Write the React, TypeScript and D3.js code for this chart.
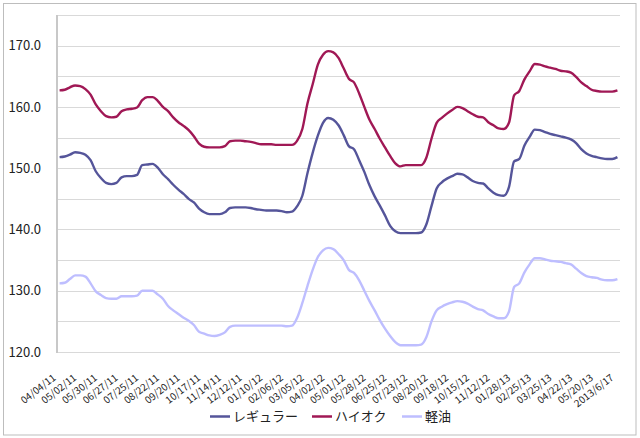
import React from 'react';
import * as d3 from 'd3';

const tickLabels = [
  '04/04/11', '05/02/11', '05/30/11', '06/27/11', '07/25/11', '08/22/11', '09/20/11',
  '10/17/11', '11/14/11', '12/12/11', '01/10/12', '02/06/12', '03/05/12', '04/02/12',
  '05/01/12', '05/28/12', '06/25/12', '07/23/12', '08/20/12', '09/18/12', '10/15/12',
  '11/12/12', '01/28/13', '02/25/13', '03/25/13', '04/22/13', '05/20/13', '2013/6/17',
];

const regular = [
  151.8, 151.9, 152.2, 152.6, 152.5, 152.2, 151.3, 149.5, 148.4, 147.6,
  147.4, 147.6, 148.5, 148.7, 148.7, 148.9, 150.5, 150.6, 150.7, 150.1,
  149.0, 148.2, 147.3, 146.5, 145.8, 145.0, 144.4, 143.4, 142.8, 142.5,
  142.5, 142.5, 142.8, 143.5, 143.6, 143.6, 143.6, 143.5, 143.3, 143.2,
  143.1, 143.1, 143.1, 143.0, 142.8, 142.9, 143.8, 145.5, 149.2, 152.5,
  155.3, 157.4, 158.2, 157.9, 157.0, 155.4, 153.6, 153.1, 151.3, 149.4,
  147.2, 145.4, 143.9, 142.3, 140.6, 139.7, 139.4, 139.4, 139.4, 139.4,
  139.5, 140.8, 143.8, 146.7, 147.7, 148.3, 148.7, 149.1, 149.0, 148.5,
  147.9, 147.6, 147.5, 146.7, 146.0, 145.6, 145.5, 146.9, 151.1, 151.5,
  153.7, 155.1, 156.3, 156.2, 155.9, 155.6, 155.4, 155.2, 155.0, 154.7,
  154.1, 153.1, 152.4, 152.0, 151.8, 151.6, 151.5, 151.5, 151.8,
];

const highOctane = [
  162.7, 162.8, 163.2, 163.5, 163.4, 162.9, 162.0, 160.4, 159.3, 158.5,
  158.3, 158.4, 159.3, 159.6, 159.7, 159.9, 161.1, 161.6, 161.6, 161.0,
  160.0, 159.3, 158.3, 157.5, 156.9, 156.2, 155.2, 154.0, 153.5, 153.4,
  153.4, 153.4, 153.6, 154.4, 154.5, 154.5, 154.4, 154.3, 154.1, 153.9,
  153.9, 153.9, 153.8, 153.8, 153.8, 153.8, 154.5, 156.4, 160.6, 163.7,
  166.9, 168.5, 169.1, 168.9, 168.0, 166.3, 164.6, 164.0, 162.2, 160.0,
  157.9, 156.4, 154.8, 153.4, 152.0, 150.8, 150.3, 150.5, 150.5, 150.5,
  150.5, 151.7, 154.8, 157.4, 158.2, 158.9, 159.5, 160.0, 159.8, 159.3,
  158.8, 158.4, 158.3, 157.5, 157.0, 156.5, 156.4, 157.4, 161.9, 162.6,
  164.5, 165.8, 167.0, 166.9, 166.6, 166.4, 166.2, 165.9, 165.8, 165.6,
  164.9, 164.0, 163.4, 162.8, 162.6, 162.5, 162.5, 162.5, 162.7,
];

const diesel = [
  131.2, 131.3, 131.9, 132.5, 132.5, 132.3, 131.2, 129.9, 129.3, 128.8,
  128.7, 128.7, 129.1, 129.1, 129.1, 129.2, 130.0, 130.0, 130.0, 129.4,
  128.7, 127.5, 126.8, 126.2, 125.6, 125.1, 124.4, 123.3, 123.0, 122.7,
  122.6, 122.8, 123.2, 124.1, 124.3, 124.3, 124.3, 124.3, 124.3, 124.3,
  124.3, 124.3, 124.3, 124.3, 124.2, 124.3, 125.6, 128.0, 130.8, 133.4,
  135.5, 136.6, 137.0, 136.8, 136.0, 135.0, 133.4, 132.9, 131.7, 130.0,
  128.3, 126.8, 125.2, 123.8, 122.6, 121.6, 121.1, 121.1, 121.1, 121.1,
  121.2, 122.4, 125.0, 126.8, 127.4, 127.8, 128.1, 128.3, 128.2, 127.9,
  127.4, 127.0, 126.8, 126.2, 125.8, 125.5, 125.5, 126.6, 130.6, 131.2,
  133.0, 134.3, 135.3, 135.3, 135.1, 134.9, 134.8, 134.7, 134.5, 134.3,
  133.6, 132.9, 132.4, 132.2, 132.1, 131.8, 131.7, 131.7, 131.9,
];

const seriesNames = ['レギュラー', 'ハイオク', '軽油'];
const seriesColors = ['#55559A', '#A01855', '#BEBEFF'];
const yLabelValues = [120, 130, 140, 150, 160, 170];
const gridValues = [120, 125, 130, 135, 140, 145, 150, 155, 160, 165, 170, 175];

export default function App() {
  const W = 640;
  const H = 438;
  const left = 57;
  const right = 620;
  const top = 15;
  const bottom = 352;
  const n = regular.length;
  const x = d3.scaleBand<number>().domain(d3.range(n)).range([left, right]).padding(0);
  const cx = (i: number) => (x(i) as number) + x.bandwidth() / 2;
  const y = d3.scaleLinear().domain([120, 175]).range([bottom, top]);
  const line = d3
    .line<number>()
    .x((_, i) => cx(i))
    .y((d) => y(d))
    .curve(d3.curveMonotoneX);
  const series = [regular, highOctane, diesel];
  const font = "'Noto Sans CJK JP', 'Noto Sans', sans-serif";

  const legendItems = [
    { x: 210, name: seriesNames[0], color: seriesColors[0] },
    { x: 312, name: seriesNames[1], color: seriesColors[1] },
    { x: 402, name: seriesNames[2], color: seriesColors[2] },
  ];

  return (
    <div style={{ position: 'absolute', left: 0, top: 0 }}>
      <svg width={W} height={H} style={{ display: 'block', background: '#fff' }}>
        <rect x={3.5} y={3.5} width={632.5} height={431.5} fill="#fff" stroke="#BDBDBD" strokeWidth={1} />
        {gridValues.map((v) => (
          <line key={v} x1={left} x2={right} y1={Math.round(y(v)) + 0.5} y2={Math.round(y(v)) + 0.5} stroke="#D9D9D9" strokeWidth={1} />
        ))}
        <line x1={left} x2={left} y1={top} y2={bottom + 1} stroke="#C8C8C8" strokeWidth={2} />
        {yLabelValues.map((v) => (
          <text key={v} x={41} y={y(v)} dy="0.36em" textAnchor="end" fontSize={13} fontFamily={font} fill="#222">
            {v.toFixed(1)}
          </text>
        ))}
        {tickLabels.map((lab, k) => {
          const i = k * 4;
          return (
            <text
              key={lab}
              transform={`translate(${cx(i) - 3},${379}) rotate(-38)`}
              textAnchor="end"
              fontSize={10}
              fontFamily={font}
              fill="#222"
            >
              {lab}
            </text>
          );
        })}
        {series.map((s, k) => (
          <path key={k} d={line(s) || ''} fill="none" stroke={seriesColors[k]} strokeWidth={2.4} strokeLinejoin="round" />
        ))}
        {legendItems.map((it) => (
          <g key={it.name}>
            <line x1={it.x} x2={it.x + 20} y1={416.5} y2={416.5} stroke={it.color} strokeWidth={2.5} />
            <text x={it.x + 23} y={421} fontSize={13} fontFamily={font} fill="#222">
              {it.name}
            </text>
          </g>
        ))}
      </svg>
    </div>
  );
}
